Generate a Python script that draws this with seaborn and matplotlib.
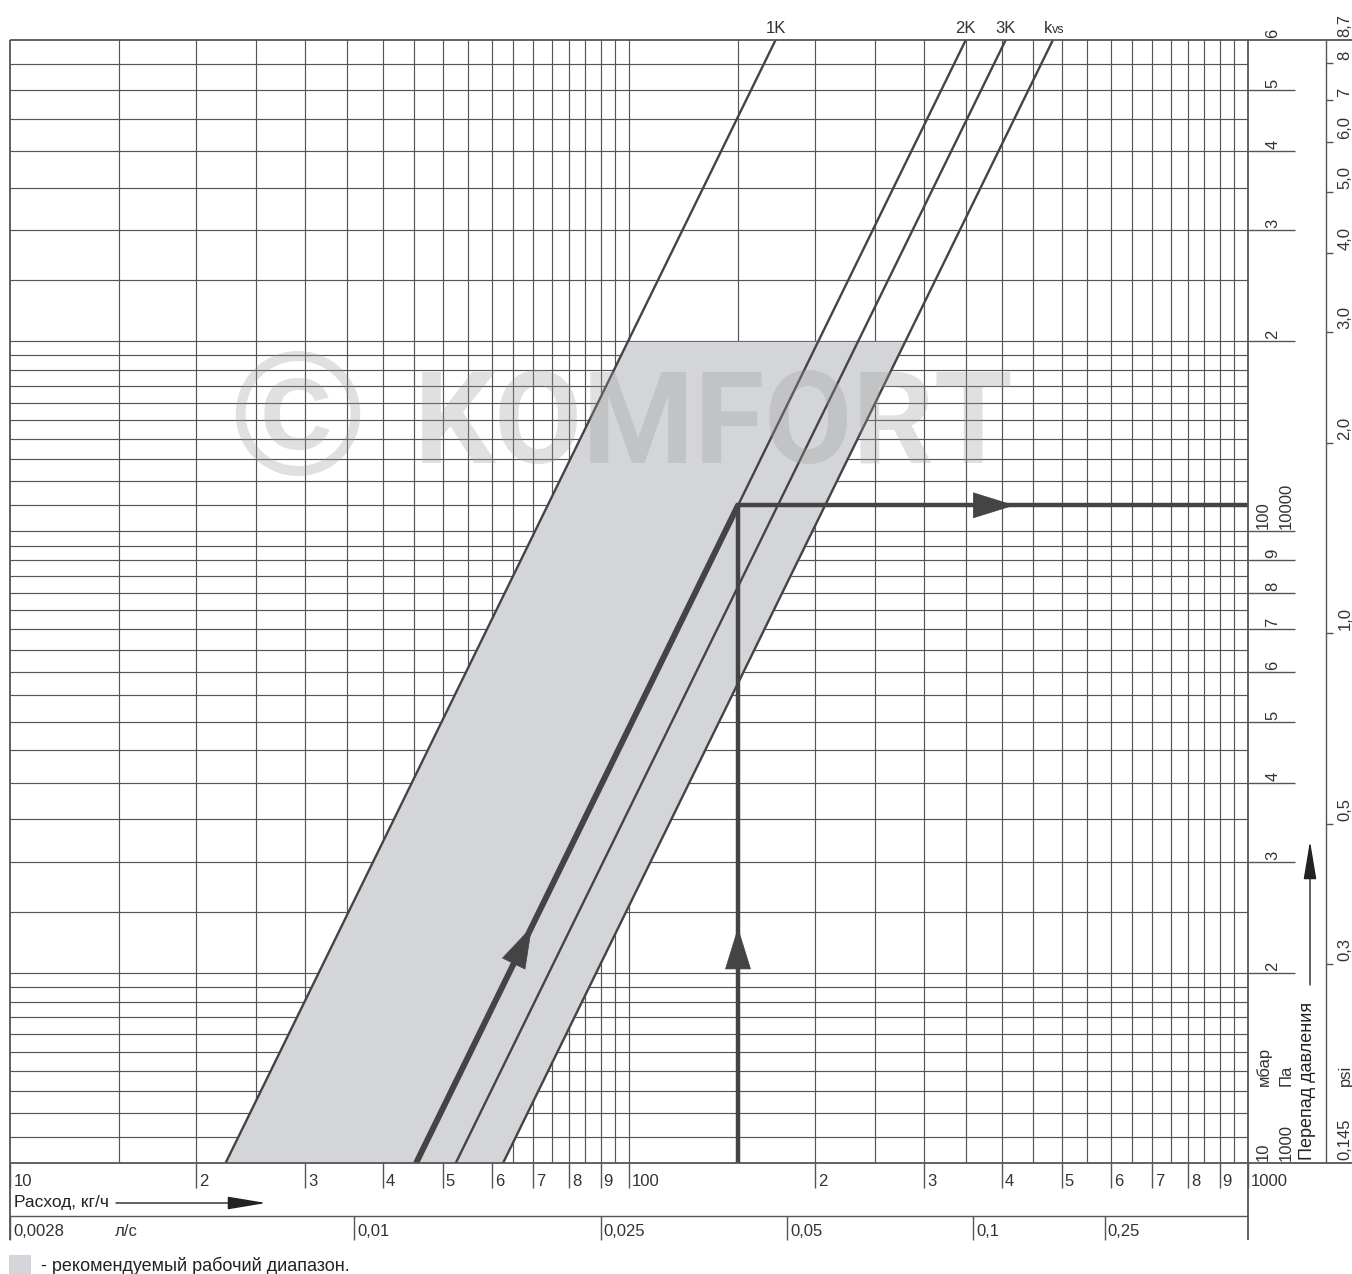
import numpy as np
import pandas as pd
import seaborn as sns
import matplotlib.pyplot as plt
import matplotlib.transforms as mtransforms
from matplotlib.lines import Line2D
from matplotlib.patches import Rectangle, FancyArrowPatch
from matplotlib.ticker import NullLocator, NullFormatter

# =========================
# Data
# =========================
# valve curves: flow (kg/h) where each line crosses 10 mbar and 600 mbar
curve_names = ["1K", "2K", "3K", "kvs"]
q_at_10 = [22.3, 45.3, 52.5, 62.6]
q_at_600 = [172.5, 350.0, 406.0, 484.0]
p_ends = [10, 600]

# recommended working range (shaded band)
range_p = [10, 200]
range_q_left = [22.3, 99.7]
range_q_right = [62.6, 280.0]

# worked example: 150 kg/h on 2K -> 110 mbar
example_q = [45.3, 150.0]
example_p = [10, 110.0]
example_vert_q = [150.0, 150.0]
example_vert_p = [10, 110.0]
example_hori_q = [150.0, 1000.0]
example_hori_p = [110.0, 110.0]
arrow_diag_tip = (69.7, 23.7)
arrow_vert_tip = (150.0, 23.6)
arrow_hori_tip = (420.0, 110.0)

# axis labels
flow_ticks = [10, 20, 30, 40, 50, 60, 70, 80, 90, 100,
              200, 300, 400, 500, 600, 700, 800, 900, 1000]
flow_labels = ["10", "2", "3", "4", "5", "6", "7", "8", "9", "100",
               "2", "3", "4", "5", "6", "7", "8", "9", "1000"]
ls_q = [10, 36, 90, 180, 360, 587]
ls_labels = ["0,0028", "0,01", "0,025", "0,05", "0,1", "0,25"]

mbar_tick_lines = [20, 30, 40, 50, 60, 70, 80, 90, 100, 200, 300, 400, 500]
mbar_vals = [10, 20, 30, 40, 50, 60, 70, 80, 90, 100, 200, 300, 400, 500, 600]
mbar_labels = ["10", "2", "3", "4", "5", "6", "7", "8", "9", "100",
               "2", "3", "4", "5", "6"]
pa_vals = [10, 100]
pa_labels = ["1000", "10000"]
psi_vals = [8.7, 8, 7, 6, 5, 4, 3, 2, 1, 0.5, 0.3, 0.145]
psi_labels = ["8,7", "8", "7", "6,0", "5,0", "4,0", "3,0", "2,0",
              "1,0", "0,5", "0,3", "0,145"]
MBAR_PER_PSI = 68.948

grid_x = list(range(15, 100, 5)) + list(range(100, 1000, 50))
grid_y = (list(range(11, 20)) + list(range(20, 100, 5))
          + list(range(100, 200, 10)) + list(range(200, 600, 50)))

# =========================
# Style
# =========================
sns.set_style("white")
plt.rcParams["font.family"] = ["Liberation Sans", "DejaVu Sans"]

W, H = 1352, 1274
ink = "#444444"
grid_col = "#555555"
band_col = "#d4d5d8"
txt_col = "#333333"
fs = 12

fig = plt.figure(figsize=(W / 100, H / 100), dpi=100)
px = mtransforms.Affine2D().scale(1 / W, -1 / H).translate(0, 1) + fig.transFigure

ax = fig.add_axes([10 / W, 1 - 1163 / H, 1238 / W, 1123 / H])
ax.set_xscale("log")
ax.set_yscale("log")

x_px = mtransforms.blended_transform_factory(ax.transData, px)   # x data, y pixel
px_y = mtransforms.blended_transform_factory(px, ax.transData)   # x pixel, y data


def shifted(tr, dx=0, dy=0):
    return mtransforms.offset_copy(tr, fig=fig, x=dx, y=dy, units="dots")


def fig_line(xs, ys, tr=px, lw=1.0, color=grid_col):
    fig.add_artist(Line2D(xs, ys, transform=tr, lw=lw, color=color,
                          solid_capstyle="butt"))


def fig_arrow(start, end):
    fig.add_artist(FancyArrowPatch(
        start, end, transform=px,
        arrowstyle="-|>,head_length=2.4,head_width=0.4", mutation_scale=10,
        color="#222222", lw=1.0, shrinkA=0, shrinkB=0))


# =========================
# Plot area
# =========================
ax.fill_betweenx(range_p, range_q_left, range_q_right, color=band_col,
                 lw=0, zorder=1)

rows = []
for name, q0, q1 in zip(curve_names, q_at_10, q_at_600):
    rows.append({"curve": name, "q": q0, "p": p_ends[0]})
    rows.append({"curve": name, "q": q1, "p": p_ends[1]})
df_curves = pd.DataFrame(rows)
sns.lineplot(data=df_curves, x="q", y="p", units="curve", estimator=None,
             color=ink, lw=1.7, legend=False, ax=ax, zorder=3)
ax.set_xlabel("")
ax.set_ylabel("")

ax.plot(example_q, example_p, color=ink, lw=4.3, solid_capstyle="butt", zorder=4)
ax.plot(example_vert_q, example_vert_p, color=ink, lw=3.2,
        solid_capstyle="projecting", zorder=4)
ax.plot(example_hori_q, example_hori_p, color=ink, lw=3.2,
        solid_capstyle="butt", zorder=4)

head = "-|>,head_length=2.9,head_width=0.9"
for tip, start in [(arrow_diag_tip, (example_q[0], example_p[0])),
                   (arrow_vert_tip, (example_vert_q[0], example_vert_p[0])),
                   (arrow_hori_tip, (example_hori_q[0], example_hori_p[0]))]:
    ax.annotate("", xy=tip, xytext=start,
                arrowprops=dict(arrowstyle=head, mutation_scale=10, color=ink,
                                lw=0.5, shrinkA=0, shrinkB=0), zorder=5)

ax.set_xlim(10, 1000)
ax.set_ylim(10, 600)
ax.set_xticks(grid_x)
ax.set_yticks(grid_y)
ax.xaxis.set_minor_locator(NullLocator())
ax.yaxis.set_minor_locator(NullLocator())
ax.xaxis.set_major_formatter(NullFormatter())
ax.yaxis.set_major_formatter(NullFormatter())
ax.tick_params(which="both", length=0)
ax.grid(True, color=grid_col, lw=0.85)
for s in ax.spines.values():
    s.set_visible(False)

# watermark
ax.text(297, 475, "\u00a9", transform=px, fontsize=127, fontweight="bold",
        color="#9a9a9a", alpha=0.3, ha="center", va="baseline", zorder=10)
ax.text(414, 463, "KOMFORT", transform=px, fontsize=92, fontweight="bold",
        family=["Roboto", "Liberation Sans"], color="#9a9a9a", alpha=0.3,
        ha="left", va="baseline", zorder=10)

# =========================
# Frame
# =========================
fig_line([10, 10], [40, 1240], lw=1.3)
fig_line([1248, 1248], [40, 1240], lw=1.3)
fig_line([10, 1352], [40, 40], lw=1.3)
fig_line([10, 1352], [1163, 1163], lw=1.3)
fig_line([10, 1248], [1216, 1216], lw=1.0)
fig_line([1326, 1326], [40, 1163], lw=1.0)

# curve names above the frame
for name, q in zip(curve_names[:3], q_at_600[:3]):
    fig.text(q, 33, name, transform=x_px, fontsize=fs, color=txt_col,
             ha="center", va="baseline")
fig.text(q_at_600[3], 33, "k", transform=shifted(x_px, -1, 0), fontsize=fs,
         color=txt_col, ha="right", va="baseline")
fig.text(q_at_600[3], 33, "vs", transform=shifted(x_px, -1, 0), fontsize=9,
         color=txt_col, ha="left", va="baseline")

# =========================
# Flow axis (bottom)
# =========================
for q, lab in zip(flow_ticks, flow_labels):
    fig_line([q, q], [1163, 1188], tr=x_px, lw=1.0)
    fig.text(q, 1181, lab, transform=shifted(x_px, 3 if q > 10 else 4, 0),
             fontsize=fs, color=txt_col, ha="left", va="center")

fig.text(14, 1202, "Расход, кг/ч", transform=px, fontsize=12.5,
         color="#222222", ha="left", va="center")
fig_arrow((116, 1203), (266, 1203))

for q, lab in zip(ls_q, ls_labels):
    fig_line([q, q], [1216, 1240], tr=x_px, lw=1.0)
    fig.text(q, 1232, lab, transform=shifted(x_px, 3, 0), fontsize=fs,
             color=txt_col, ha="left", va="center")
fig.text(115, 1232, "л/с", transform=px, fontsize=fs, color=txt_col,
         ha="left", va="center")

# =========================
# Pressure axes (right)
# =========================
for p in mbar_tick_lines:
    fig_line([1248, 1295], [p, p], tr=px_y, lw=1.0)

for p, lab in zip(mbar_vals, mbar_labels):
    xpos = 1263 if lab in ("10", "100") else 1273
    fig.text(xpos, p, lab, transform=shifted(px_y, 0, 2), fontsize=fs,
             color=txt_col, rotation=90, ha="center", va="bottom")
for p, lab in zip(pa_vals, pa_labels):
    fig.text(1286, p, lab, transform=shifted(px_y, 0, 2), fontsize=fs,
             color=txt_col, rotation=90, ha="center", va="bottom")

fig.text(1264, 1086, "мбар", transform=px, fontsize=fs, color=txt_col,
         rotation=90, ha="center", va="bottom")
fig.text(1286, 1086, "Па", transform=px, fontsize=fs, color=txt_col,
         rotation=90, ha="center", va="bottom")
fig.text(1308, 1160, "Перепад давления", transform=px, fontsize=13,
         color="#222222", rotation=90, ha="center", va="bottom")
fig_arrow((1310, 985), (1310, 841))

for v, lab in zip(psi_vals, psi_labels):
    p = v * MBAR_PER_PSI
    if lab not in ("8,7", "0,145"):
        fig_line([1326, 1333], [p, p], tr=px_y, lw=1.0)
    fig.text(1345, p, lab, transform=shifted(px_y, 0, 3), fontsize=fs,
             color=txt_col, rotation=90, ha="center", va="bottom")
fig.text(1345, 1086, "psi", transform=px, fontsize=fs, color=txt_col,
         rotation=90, ha="center", va="bottom")

# =========================
# Legend
# =========================
fig.add_artist(Rectangle((9, 1277), 22, -22, transform=px, color=band_col, lw=0))
fig.text(41, 1266, "- рекомендуемый рабочий диапазон.", transform=px,
         fontsize=13, color="#222222", ha="left", va="center")

fig.savefig("out.png", dpi=100)
